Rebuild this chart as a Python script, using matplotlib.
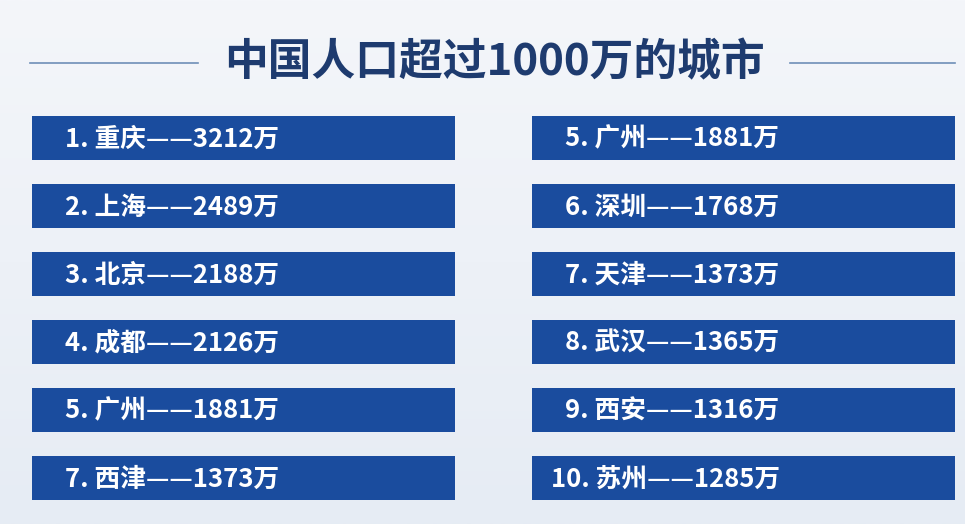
import matplotlib.pyplot as plt
import numpy as np

plt.rcParams['font.family'] = ['Noto Sans CJK SC', 'DejaVu Sans']

TITLE = "中国人口超过1000万的城市"
left_labels = ["1. 重庆——3212万", "2. 上海——2489万", "3. 北京——2188万",
               "4. 成都——2126万", "5. 广州——1881万", "7. 西津——1373万"]
right_labels = ["5. 广州——1881万", "6. 深圳——1768万", "7. 天津——1373万",
                "8. 武汉——1365万", "9. 西安——1316万", "10. 苏州——1285万"]

BAR_COLOR = "#1a4c9e"
TITLE_COLOR = "#1e3b6f"

fig = plt.figure(figsize=(9.65, 5.24), dpi=100)
fig.patch.set_facecolor("#eef2f7")
ax = fig.add_axes([0, 0, 1, 1])
ax.set_xlim(0, 965)
ax.set_ylim(524, 0)
ax.axis("off")

# soft background gradient
grad = np.linspace(0, 1, 256).reshape(-1, 1)
ax.imshow(grad, extent=[0, 965, 524, 0], cmap=plt.matplotlib.colors.LinearSegmentedColormap.from_list(
    "bg", ["#f4f6fa", "#e6ecf4"]), aspect="auto", zorder=0)

ax.text(494, 62, TITLE, ha="center", va="center", fontsize=31.5, fontweight="bold", color=TITLE_COLOR)
ax.plot([30, 198], [63, 63], color="#6f8fb8", lw=1.2)
ax.plot([790, 955], [63, 63], color="#6f8fb8", lw=1.2)

rows = np.arange(len(left_labels))
y_centers = 138 + rows * 68
ax.barh(y_centers, 423, left=32, height=44, color=BAR_COLOR, zorder=2)
ax.barh(y_centers, 423, left=532, height=44, color=BAR_COLOR, zorder=2)

for y, lab in zip(y_centers, left_labels):
    ax.text(65, y + 1, lab, ha="left", va="center", fontsize=18.5, fontweight="bold", color="white", zorder=3)
for y, lab in zip(y_centers, right_labels):
    x = 551 if lab.startswith("10") else 565
    ax.text(x, y + 1, lab, ha="left", va="center", fontsize=18.5, fontweight="bold", color="white", zorder=3)

fig.savefig("out.png", dpi=100)
